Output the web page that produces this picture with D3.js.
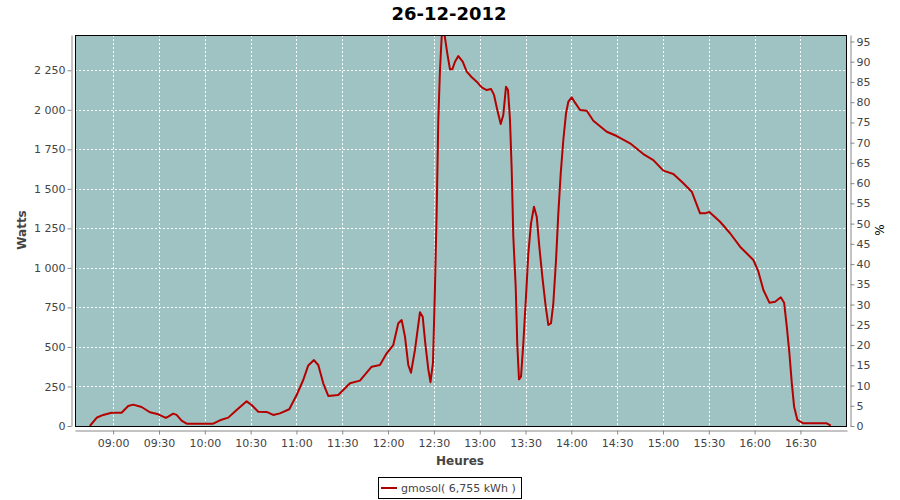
<!DOCTYPE html>
<html><head><meta charset="utf-8">
<script src="https://cdn.jsdelivr.net/npm/d3@7"></script>
<style>body{margin:0;background:#fff}svg{display:block}text{font-family:"DejaVu Sans",sans-serif}</style>
</head><body><svg id="c" width="900" height="500"></svg>
<script>
const title = "26-12-2012";
const seriesName = "gmosol( 6,755 kWh )";
const times = ["08:44:44","08:49:08","08:53:27","08:58:57","09:05:30","09:09:50","09:13:06","09:18:36","09:24:02","09:29:29","09:34:31","09:36:02","09:39:18","09:41:32","09:44:48","09:48:05","10:05:30","10:09:53","10:15:20","10:20:50","10:27:23","10:30:39","10:34:59","10:40:29","10:44:48","10:49:11","10:55:17","11:00:08","11:04:27","11:07:44","11:11:28","11:14:17","11:17:33","11:20:50","11:27:23","11:35:03","11:41:35","11:49:15","11:54:41","11:59:05","12:03:24","12:06:41","12:08:54","12:11:04","12:13:14","12:14:59","12:17:37","12:20:53","12:22:40","12:24:22","12:26:20","12:27:46","12:29:24","12:30:43","12:31:50","12:32:53","12:33:59","12:35:06","12:36:17","12:38:46","12:40:32","12:42:03","12:43:49","12:45:59","12:48:52","12:51:29","12:54:46","12:58:02","13:01:18","13:04:35","13:07:24","13:09:22","13:11:32","13:13:45","13:15:27","13:17:13","13:18:32","13:19:50","13:20:57","13:22:00","13:23:34","13:24:37","13:25:44","13:27:03","13:28:33","13:30:19","13:31:50","13:33:36","13:35:33","13:37:20","13:39:02","13:41:15","13:43:14","13:44:56","13:46:42","13:48:12","13:49:59","13:51:29","13:53:03","13:54:45","13:56:31","13:58:02","14:00:15","14:02:25","14:05:42","14:10:05","14:14:24","14:23:11","14:29:44","14:38:26","14:47:09","14:53:42","15:00:15","15:06:48","15:13:21","15:18:51","15:24:17","15:27:34","15:30:23","15:37:23","15:43:56","15:50:29","15:59:12","16:02:29","16:05:45","16:09:41","16:13:25","16:17:09","16:19:19","16:21:05","16:22:47","16:24:22","16:25:52","16:28:01","16:31:57","16:47:17","16:49:54"];
const watts = [0,52,70,84,84,126,135,120,87,74,51,59,78,70,34,15,15,36,53,101,156,133,90,89,70,80,106,196,291,383,417,386,270,190,196,270,287,375,386,460,512,650,670,565,386,337,481,720,691,523,360,277,400,881,1360,1935,2252,2462,2520,2357,2256,2256,2304,2340,2304,2241,2206,2178,2142,2125,2132,2094,1999,1910,1967,2146,2125,1935,1619,1197,881,512,295,312,523,818,1092,1282,1387,1324,1134,923,755,639,650,776,1050,1345,1598,1809,1978,2051,2079,2045,1999,1994,1931,1861,1834,1788,1720,1682,1615,1594,1535,1482,1345,1345,1354,1292,1219,1134,1050,976,860,780,786,814,780,628,460,270,122,38,17,17,2];
const wattTicks = [0,250,500,750,1000,1250,1500,1750,2000,2250];
const pctTicks = [0,5,10,15,20,25,30,35,40,45,50,55,60,65,70,75,80,85,90,95];
const timeTickLabels = ["09:00","09:30","10:00","10:30","11:00","11:30","12:00","12:30","13:00","13:30","14:00","14:30","15:00","15:30","16:00","16:30"];
const xDomain = ["08:35:00","17:00:30"];
const wattMax = 2473;
const pctMax = 96.6;

const parse = s => { const [h,m,sec] = s.split(":").map(Number); return new Date(2012,11,26,h,m,sec||0); };
const data = times.map((t,i)=>({t:parse(t), v:watts[i]}));

const L=75, R=847, T=35, B=426;
const svg = d3.select("#c");
const x = d3.scaleTime().domain(xDomain.map(parse)).range([L,R]);
const y = d3.scaleLinear().domain([0,wattMax]).range([B,T]);
const y2 = d3.scaleLinear().domain([0,pctMax]).range([B,T]);
const tickDates = timeTickLabels.map(s=>parse(s+":00"));
const fmtW = d => d3.format(",")(d).replace(/,/g," ");

svg.append("text").attr("x",449).attr("y",20).attr("text-anchor","middle")
  .attr("font-size",18).attr("font-weight","bold").attr("fill","#000").text(title);

svg.append("rect").attr("x",L).attr("y",T).attr("width",R-L).attr("height",B-T).attr("fill","#9fc3c3");

const grid = svg.append("g").attr("stroke","#fff").attr("stroke-width",1).attr("stroke-dasharray","2,2");
grid.selectAll("line.v").data(tickDates).join("line")
  .attr("x1",d=>Math.round(x(d))+0.5).attr("x2",d=>Math.round(x(d))+0.5).attr("y1",T).attr("y2",B);
grid.selectAll("line.h").data(wattTicks.filter(d=>d>0)).join("line").attr("class","h")
  .attr("y1",d=>Math.round(y(d))+0.5).attr("y2",d=>Math.round(y(d))+0.5).attr("x1",L).attr("x2",R);

svg.append("defs").append("clipPath").attr("id","clip").append("rect")
  .attr("x",L).attr("y",T).attr("width",R-L).attr("height",B-T);
svg.append("path").datum(data).attr("clip-path","url(#clip)")
  .attr("fill","none").attr("stroke","#b50000").attr("stroke-width",2).attr("stroke-linejoin","round")
  .attr("d", d3.line().x(d=>x(d.t)).y(d=>y(d.v)));

svg.append("rect").attr("x",L+0.5).attr("y",T+0.5).attr("width",R-L-1).attr("height",B-T).attr("fill","none").attr("stroke","#000").attr("stroke-width",1);

function styleAxis(g){
  g.select(".domain").attr("stroke","#888");
  g.selectAll(".tick line").attr("stroke","#888");
  g.selectAll(".tick text").attr("fill","#444").attr("font-size",11).attr("font-family","DejaVu Sans");
}
const ax = svg.append("g").attr("transform",`translate(0,${B+4.5})`)
  .call(d3.axisBottom(x).tickValues(tickDates).tickFormat(d3.timeFormat("%H:%M")).tickSize(4).tickSizeOuter(0));
styleAxis(ax); ax.selectAll(".tick text").attr("dy","0.9em");
const ay = svg.append("g").attr("transform",`translate(${L-3.5},0)`)
  .call(d3.axisLeft(y).tickValues(wattTicks).tickFormat(fmtW).tickSize(4).tickSizeOuter(0));
styleAxis(ay); ay.selectAll(".tick text").attr("x",-6);
const ay2 = svg.append("g").attr("transform",`translate(${R+3.5},0)`)
  .call(d3.axisRight(y2).tickValues(pctTicks).tickSize(4).tickSizeOuter(0));
styleAxis(ay2); ay2.selectAll(".tick text").attr("x",6);

svg.append("text").attr("transform","translate(26,230) rotate(-90)").attr("text-anchor","middle")
  .attr("font-size",12).attr("font-weight","bold").attr("fill","#444").text("Watts");
svg.append("text").attr("x",460).attr("y",465).attr("text-anchor","middle")
  .attr("font-size",12).attr("font-weight","bold").attr("fill","#444").text("Heures");
svg.append("text").attr("transform","translate(884,230) rotate(-90)").attr("text-anchor","middle")
  .attr("font-size",12).attr("fill","#000").text("%");

const lg = svg.append("g");
lg.append("rect").attr("x",378.5).attr("y",477.5).attr("width",143).attr("height",21).attr("fill","#fff").attr("stroke","#000");
lg.append("line").attr("x1",381).attr("x2",397).attr("y1",488).attr("y2",488).attr("stroke","#b50000").attr("stroke-width",2);
lg.append("text").attr("x",401).attr("y",492).attr("font-size",11).attr("fill","#444").text(seriesName);
</script></body></html>
